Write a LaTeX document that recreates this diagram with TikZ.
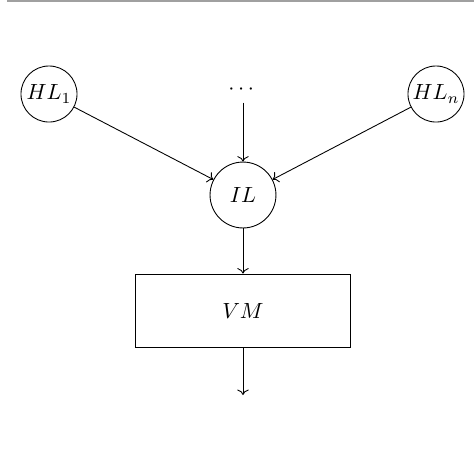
\documentclass[tikz,border=0pt]{standalone}
\usepackage{amsmath,amssymb}
\usetikzlibrary{arrows.meta,positioning,calc}
\definecolor{rulegray}{RGB}{160,160,160}

\begin{document}
\begin{tikzpicture}[x=0.455pt,y=-0.455pt,
    layer/.style={draw,circle,inner sep=0pt,minimum size=25.5pt},
    inlayer/.style={draw,circle,inner sep=0pt,minimum size=30pt},
    vmbox/.style={draw,rectangle,minimum width=97.8pt,minimum height=33.2pt},
    flow/.style={->}]
    \useasboundingbox (0,0) rectangle (474,474);
    \draw[rulegray,line width=1pt] (7,1) -- (474,1);
    % hidden layers
    \node[layer] (hl1) at (49,94) {$HL_1$};
    \node (dots) at (243,90) {$\cdots$};
    \node[layer] (hln) at (436,94) {$HL_n$};
    % integration layer and output
    \node[inlayer] (il) at (243,195) {$IL$};
    \node[vmbox] (vm) at (243,310.5) {$VM$};
    \coordinate (out) at (243,395);
    \draw[flow] (hl1) -- (il);
    \draw[flow] (dots) -- (il);
    \draw[flow] (hln) -- (il);
    \draw[flow] (il) -- (vm);
    \draw[flow] (vm) -- (out);
\end{tikzpicture}
\end{document}
